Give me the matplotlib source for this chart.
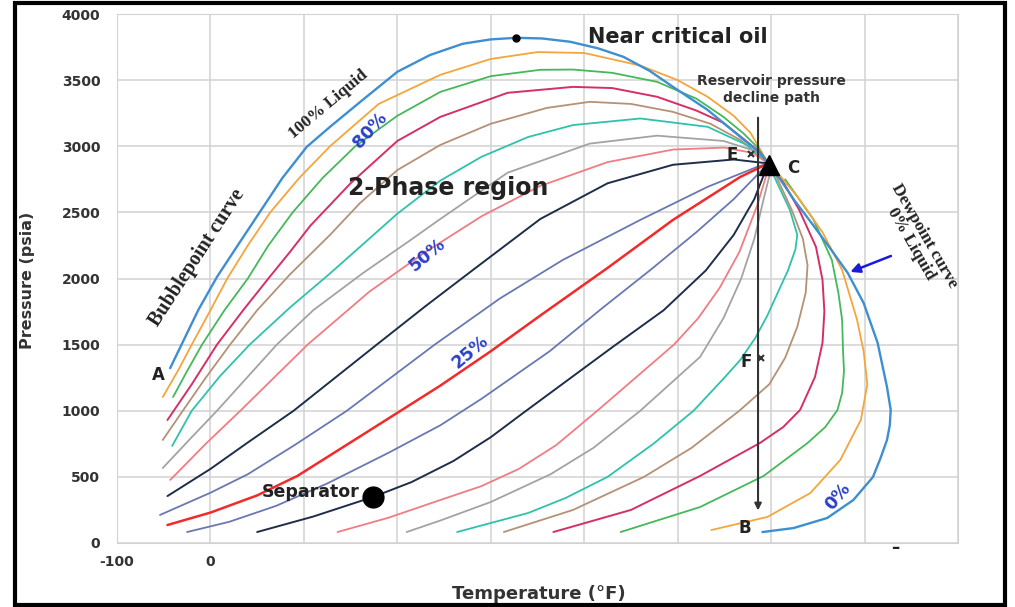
import matplotlib
matplotlib.use("Agg")
import matplotlib.pyplot as plt
from matplotlib.patches import Rectangle

# ---- data: temperature (F), pressure (psia) ----

# phase envelope: bubblepoint side -> critical point -> dewpoint side
env_t = [-43, -13, 7, 31, 53, 77, 103, 128, 163, 200, 235, 270, 300, 327, 355, 385, 415, 442, 470, 495,
         532, 567, 588, 598, 608, 625, 644, 663, 682, 699, 714, 724, 728, 727, 724, 717, 709, 688, 660, 624, 591]
env_p = [1324, 1762, 2012, 2270, 2504, 2760, 2995, 3147, 3351, 3563, 3690, 3775, 3808, 3820, 3815, 3790, 3740, 3676, 3570, 3449,
         3275, 3071, 2950, 2860, 2768, 2590, 2413, 2230, 2042, 1815, 1513, 1180, 1006, 890, 779, 640, 499, 325, 189, 113, 83]

# quality lines starting on the left edge (high liquid %)
orange_l_t = [-51, -35, -20, 0, 18, 40, 64, 95, 128, 180, 246, 300, 350, 400, 460, 500, 532, 560, 578, 597]
orange_l_p = [1104, 1300, 1500, 1760, 2000, 2250, 2500, 2760, 3000, 3320, 3540, 3660, 3712, 3705, 3610, 3500, 3374, 3230, 3101, 2870]
green_l_t = [-40, -25, -9, 15, 40, 62, 88, 120, 155, 200, 246, 300, 353, 388, 430, 478, 520, 549, 570, 585, 597]
green_l_p = [1104, 1300, 1500, 1760, 2000, 2250, 2500, 2760, 3000, 3230, 3411, 3530, 3578, 3580, 3555, 3487, 3360, 3222, 3100, 2995, 2870]
crimson_l_t = [-46, -20, 7, 35, 62, 85, 107, 150, 200, 246, 318, 388, 430, 478, 520, 549, 585, 597]
crimson_l_p = [930, 1200, 1500, 1760, 2000, 2200, 2400, 2720, 3040, 3222, 3404, 3449, 3440, 3374, 3270, 3177, 2973, 2870]
tan_l_t = [-51, -29, -5, 21, 50, 85, 128, 160, 200, 246, 300, 360, 406, 450, 495, 535, 567, 597]
tan_l_p = [779, 1006, 1250, 1500, 1760, 2030, 2330, 2570, 2820, 3010, 3170, 3290, 3336, 3320, 3260, 3170, 3048, 2870]
teal_l_t = [-41, -20, 10, 42, 85, 125, 165, 200, 246, 290, 340, 388, 460, 532, 574, 597]
teal_l_p = [734, 1000, 1260, 1500, 1780, 2020, 2270, 2490, 2740, 2920, 3070, 3160, 3210, 3147, 3010, 2870]
gray_l_t = [-51, -20, 7, 71, 110, 163, 210, 246, 318, 406, 478, 549, 585, 597]
gray_l_p = [567, 800, 1000, 1500, 1760, 2040, 2270, 2450, 2800, 3020, 3080, 3040, 2960, 2870]
pink_l_t = [-43, -5, 32, 104, 170, 230, 290, 353, 425, 495, 550, 580, 597]
pink_l_p = [477, 750, 1000, 1500, 1900, 2200, 2470, 2700, 2880, 2975, 2990, 2950, 2870]
navy_l_t = [-46, 0, 40, 89, 178, 230, 281, 353, 425, 495, 560, 597]
navy_l_p = [355, 560, 760, 1000, 1500, 1790, 2065, 2450, 2720, 2860, 2900, 2870]
slate_l_t = [-54, 0, 40, 90, 146, 240, 310, 377, 460, 532, 585, 597]
slate_l_p = [212, 380, 520, 740, 1000, 1500, 1850, 2140, 2443, 2693, 2844, 2870]
red_t = [-46, 0, 50, 93, 170, 246, 300, 353, 425, 495, 567, 597]
red_p = [136, 230, 360, 507, 850, 1190, 1450, 1720, 2080, 2443, 2768, 2870]

# quality lines starting on the bottom edge (low liquid %)
slate_b_t = [-25, 20, 70, 125, 190, 246, 290, 363, 420, 470, 520, 560, 597]
slate_b_p = [83, 160, 280, 450, 680, 890, 1090, 1450, 1780, 2060, 2350, 2600, 2870]
navy_b_t = [50, 110, 174, 215, 260, 300, 335, 430, 485, 530, 560, 582, 597]
navy_b_p = [83, 200, 348, 460, 620, 800, 985, 1480, 1760, 2060, 2330, 2600, 2870]
pink_b_t = [136, 190, 246, 290, 330, 370, 414, 496, 522, 545, 566, 585, 597]
pink_b_p = [83, 190, 325, 430, 560, 740, 1000, 1500, 1700, 1930, 2200, 2550, 2830]
gray_b_t = [210, 246, 300, 364, 410, 460, 524, 549, 568, 582, 592, 600]
gray_b_p = [83, 170, 310, 520, 720, 1000, 1407, 1700, 2000, 2300, 2600, 2830]
teal_b_t = [264, 340, 380, 425, 474, 517, 550, 567, 583, 596, 607, 618, 626, 628, 620, 608, 600]
teal_b_p = [83, 227, 340, 500, 750, 1000, 1250, 1384, 1550, 1720, 1891, 2060, 2220, 2330, 2520, 2700, 2820]
tan_b_t = [314, 388, 464, 515, 566, 598, 615, 628, 637, 639, 634, 622, 605]
tan_b_p = [83, 250, 500, 720, 1000, 1200, 1400, 1634, 1891, 2100, 2300, 2520, 2780]
crimson_b_t = [367, 450, 524, 588, 613, 631, 647, 655, 657, 655, 648, 630, 608]
crimson_b_p = [83, 250, 507, 756, 877, 1006, 1256, 1513, 1750, 1990, 2239, 2520, 2790]
green_b_t = [439, 524, 592, 639, 658, 671, 676, 678, 677, 676, 672, 665, 645, 615]
green_b_p = [83, 272, 507, 756, 877, 1006, 1135, 1300, 1450, 1687, 1891, 2140, 2450, 2750]
orange_b_t = [536, 596, 642, 674, 696, 703, 699, 692, 676, 655, 628, 608]
orange_b_p = [98, 197, 378, 628, 930, 1200, 1450, 1687, 2065, 2350, 2620, 2790]

# points of interest
crit_t, crit_p = 598, 2860
oil_t, oil_p = 327, 3820
sep_t, sep_p = 174, 348
path_t, path_top, path_bottom = 586, 3237, 225

x_ticks = [-100, 0, 100, 200, 300, 400, 500, 600, 700, 800]
x_labels = ["-100", "0", "", "", "", "", "", "", "", ""]
y_ticks = [0, 500, 1000, 1500, 2000, 2500, 3000, 3500, 4000]

BLUE = "#3d8fd1"
ORANGE = "#f4a53c"
GREEN = "#45b85a"
CRIMSON = "#d42f66"
TAN = "#b59176"
TEAL = "#2ec2ab"
GRAY = "#a3a3a3"
PINK = "#f07c84"
NAVY = "#1e2d4a"
SLATE = "#6a78b2"
RED = "#f22a2a"
PCT = "#2a40c8"

lines = [
    (orange_l_t, orange_l_p, ORANGE, 1.3), (green_l_t, green_l_p, GREEN, 1.3),
    (crimson_l_t, crimson_l_p, CRIMSON, 1.4), (tan_l_t, tan_l_p, TAN, 1.3),
    (teal_l_t, teal_l_p, TEAL, 1.3), (gray_l_t, gray_l_p, GRAY, 1.3),
    (pink_l_t, pink_l_p, PINK, 1.3), (navy_l_t, navy_l_p, NAVY, 1.4),
    (slate_l_t, slate_l_p, SLATE, 1.3), (red_t, red_p, RED, 1.8),
    (slate_b_t, slate_b_p, SLATE, 1.3), (navy_b_t, navy_b_p, NAVY, 1.4),
    (pink_b_t, pink_b_p, PINK, 1.3), (gray_b_t, gray_b_p, GRAY, 1.3),
    (teal_b_t, teal_b_p, TEAL, 1.3), (tan_b_t, tan_b_p, TAN, 1.3),
    (crimson_b_t, crimson_b_p, CRIMSON, 1.4), (green_b_t, green_b_p, GREEN, 1.3),
    (orange_b_t, orange_b_p, ORANGE, 1.3),
]

fig = plt.figure(figsize=(10.15, 6.07), dpi=100)
ax = fig.add_axes([117 / 1015, 1 - 543 / 607, 841 / 1015, 529 / 607])

for t, p, c, lw in lines:
    ax.plot(t, p, color=c, lw=lw, solid_capstyle="round", solid_joinstyle="round", zorder=3)
ax.plot(env_t, env_p, color=BLUE, lw=1.7, solid_joinstyle="round", zorder=4)

# markers
ax.plot(crit_t, crit_p, marker="^", color="black", markersize=15, zorder=6)
ax.plot(oil_t, oil_p, marker="o", color="black", markersize=5, zorder=6)
ax.plot(sep_t, sep_p, marker="o", color="black", markersize=15, zorder=6)

# reservoir pressure decline path
ax.annotate("", xy=(path_t, path_bottom), xytext=(path_t, path_top),
            arrowprops=dict(arrowstyle="-|>", color="#333333", lw=1.5, mutation_scale=10), zorder=5)
ax.text(600, 3430, "Reservoir pressure\ndecline path", ha="center", va="center",
        fontsize=10, fontweight="bold", color="#333333", linespacing=1.3, zorder=7)

# dewpoint arrow
ax.annotate("", xy=(682, 2042), xytext=(731, 2178),
            arrowprops=dict(arrowstyle="-|>", color="#1a1adc", lw=1.8, mutation_scale=14), zorder=7)

bold = dict(fontweight="bold", color="#222222", zorder=7)
ax.text(404, 3827, "Near critical oil", ha="left", va="center", fontsize=15, **bold)
ax.text(147, 2685, "2-Phase region", ha="left", va="center", fontsize=17, **bold)
ax.text(160, 386, "Separator", ha="right", va="center", fontsize=12.5, **bold)
ax.text(624, 2837, "C", ha="center", va="center", fontsize=12, **bold)
ax.text(-56, 1270, "A", ha="center", va="center", fontsize=12, **bold)
ax.text(572, 113, "B", ha="center", va="center", fontsize=12, **bold)
ax.text(558, 2935, "E", ha="center", va="center", fontsize=12, **bold)
ax.text(573, 1370, "F", ha="center", va="center", fontsize=12, **bold)
ax.plot(579, 2945, marker="x", color="#333333", markersize=5, mew=1.5, zorder=7)
ax.plot(589, 1400, marker="x", color="#333333", markersize=5, mew=1.5, zorder=7)
ax.text(733, -40, "\u2013", ha="center", va="center", fontsize=12, clip_on=False, **bold)

serif = dict(family="Liberation Serif", fontweight="bold", color="#222222", zorder=7)
ax.text(-14, 2156, "Bubblepoint curve", rotation=57, ha="center", va="center", fontsize=14.5, **serif)
ax.text(126, 3320, "100% Liquid", rotation=40, ha="center", va="center", fontsize=12.5, **serif)
ax.text(757, 2292, "Dewpoint curve\n0% Liquid", rotation=-60, ha="center", va="center",
        fontsize=12.5, linespacing=1.0, clip_on=False, **serif)

pct = dict(color=PCT, fontweight="bold", fontsize=12.5, ha="center", va="center", zorder=7)
ax.text(171, 3124, "80%", rotation=48, **pct)
ax.text(232, 2178, "50%", rotation=40, **pct)
ax.text(278, 1445, "25%", rotation=40, **pct)
ax.text(671, 348, "0%", rotation=50, **pct)

ax.set_xlim(-100, 800)
ax.set_ylim(0, 4000)
ax.set_xticks(x_ticks)
ax.set_xticklabels(x_labels)
ax.set_yticks(y_ticks)
ax.grid(True, color="#d2d2d2", lw=1.1, zorder=0)
ax.set_axisbelow(True)
ax.tick_params(axis="y", length=0, pad=12, labelsize=10, labelcolor="#333333")
ax.tick_params(axis="x", length=0, pad=9, labelsize=10, labelcolor="#333333")
for lab in ax.get_xticklabels() + ax.get_yticklabels():
    lab.set_fontweight("bold")
for s in ax.spines.values():
    s.set_color("#d2d2d2")

ax.set_xlabel("Temperature (\u00b0F)", fontsize=13, fontweight="bold", color="#333333")
ax.xaxis.set_label_coords(0.502, -0.079)
ax.set_ylabel("Pressure (psia)", fontsize=11.5, fontweight="bold", color="#333333")
ax.yaxis.set_label_coords(-0.0975, 0.497)

fig.patches.append(Rectangle((15 / 1015, 2 / 607), 990 / 1015, 602 / 607, transform=fig.transFigure,
                             fill=False, lw=3, edgecolor="black"))

fig.savefig("out.png", dpi=100)
